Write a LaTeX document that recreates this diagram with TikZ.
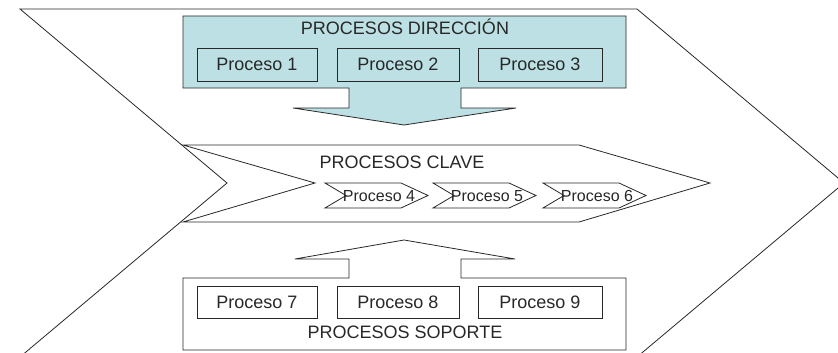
\documentclass[tikz,border=0pt]{standalone}
\usepackage{fontspec}
\setmainfont{Liberation Sans}
\definecolor{teal}{RGB}{188,224,227}
\definecolor{ink}{RGB}{40,40,40}
\begin{document}
\begin{tikzpicture}[x=1pt,y=-1pt,
  outline/.style={draw=ink,line width=0.8pt,line join=miter},
  probox/.style={outline,minimum width=120pt,minimum height=33pt,inner sep=0pt,
    font=\fontsize{18}{20}\selectfont,text=ink},
  title/.style={anchor=base,font=\fontsize{18}{20}\selectfont,text=ink,inner sep=0pt},
  smalltxt/.style={anchor=base,font=\fontsize{16}{18}\selectfont,text=ink,inner sep=0pt}]
\useasboundingbox (0,0) rectangle (838,353);
\clip (0,0) rectangle (838,353);

% large background chevron
\draw[outline,fill=white] (20,9) -- (637,9) -- (844,183) -- (637,357) -- (20,357) -- (227,183) -- cycle;

% direction block: box merged with a downward arrow
\draw[outline,fill=teal] (183,16) -- (626,16) -- (626,88) -- (461,88) -- (461,108)
  -- (516,108) -- (404,125) -- (293,108) -- (349,108) -- (349,88) -- (183,88) -- cycle;
\node[title] (tdir) at (405,35) {PROCESOS DIRECCIÓN};
\node[probox] (p1) at (257,64.5) {Proceso 1};
\node[probox,minimum width=122pt] (p2) at (398,64.5) {Proceso 2};
\node[probox,minimum width=124pt] (p3) at (540,64.5) {Proceso 3};

% key processes chevron
\draw[outline,fill=white] (183,145) -- (579,145) -- (710,183) -- (579,222) -- (183,222) -- (315,183) -- cycle;
\node[title] (tclave) at (402,168) {PROCESOS CLAVE};

% small chevrons for processes 4, 5 and 6
\foreach \x/\n in {325/4,433/5,543/6}{
  \draw[outline,fill=white] (\x,183) -- (\x+76,183) -- (\x+103,195.5) -- (\x+76,208)
    -- (\x,208) -- (\x+21,195.5) -- cycle;
  \node[smalltxt] (p\n) at (\x+54,201) {Proceso \n};
}

% support block: upward arrow merged with a box
\draw[outline,fill=white] (183,278) -- (349,278) -- (349,259) -- (295,259) -- (404,240)
  -- (515,259) -- (461,259) -- (461,278) -- (626,278) -- (626,350) -- (183,350) -- cycle;
\node[probox,minimum height=32pt] (p7) at (257,302) {Proceso 7};
\node[probox,minimum width=122pt,minimum height=32pt] (p8) at (398,302) {Proceso 8};
\node[probox,minimum width=124pt,minimum height=32pt] (p9) at (540,302) {Proceso 9};
\node[title] (tsop) at (405,338) {PROCESOS SOPORTE};
\end{tikzpicture}
\end{document}
